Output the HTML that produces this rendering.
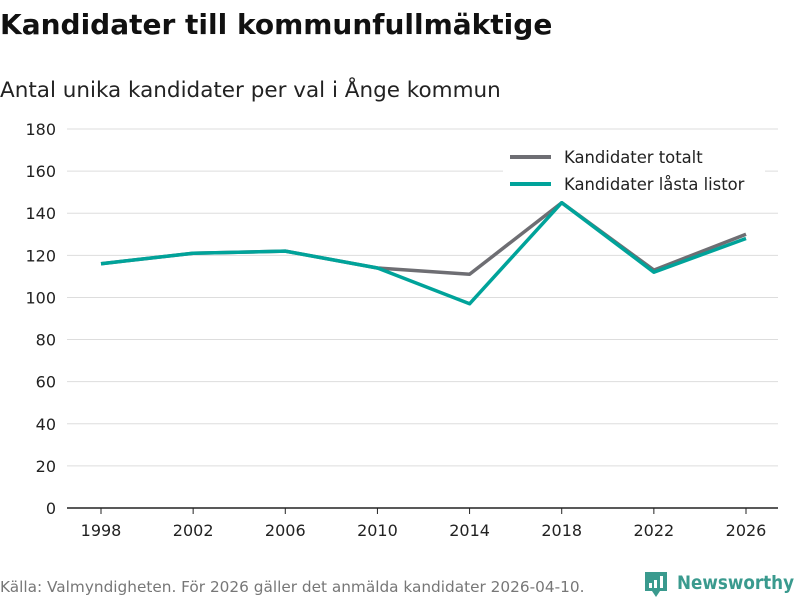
<!DOCTYPE html>
<html><head><meta charset="utf-8"><style>
body{margin:0;background:#fff;width:800px;height:600px;overflow:hidden;font-family:"DejaVu Sans","Liberation Sans",sans-serif;}
</style></head><body>
<svg id="chart" width="800" height="600" xmlns="http://www.w3.org/2000/svg">
<text x="0" y="34" font-size="28" font-weight="bold" fill="#111">Kandidater till kommunfullmäktige</text>
<text x="0" y="97" font-size="21.5" fill="#222">Antal unika kandidater per val i Ånge kommun</text>
<g id="grid"></g><g id="lines"></g>
<g>
<rect x="503" y="143" width="262" height="58" fill="#fff"/>
<line x1="510" y1="157" x2="551" y2="157" stroke="#6e6e73" stroke-width="4"/>
<text x="564" y="163" font-size="16.4" fill="#222">Kandidater totalt</text>
<line x1="510" y1="184" x2="551" y2="184" stroke="#00a39a" stroke-width="4"/>
<text x="564" y="190" font-size="16.4" fill="#222">Kandidater låsta listor</text>
</g>
<text x="0" y="592" font-size="15.3" fill="#777">Källa: Valmyndigheten. För 2026 gäller det anmälda kandidater 2026-04-10.</text>
<g>
<path d="M645 572h22v19h-7l-4 6-4-6h-7z" fill="#3a9a8e"/>
<rect x="649" y="583" width="3" height="5" fill="#fff"/><rect x="654" y="580" width="3" height="8" fill="#fff"/><rect x="660" y="576" width="3" height="12" fill="#fff"/>
<text x="677" y="589" font-size="19" font-weight="bold" fill="#3a9a8e" textLength="117" lengthAdjust="spacingAndGlyphs">Newsworthy</text>
</g>
</svg>
<script>
const years=[1998,2002,2006,2010,2014,2018,2022,2026];
const totalt=[116,121,122,114,111,145,113,130];
const lasta=[116,121,122,114,97,145,112,128];
const yTicks=[0,20,40,60,80,100,120,140,160,180];
const NS="http://www.w3.org/2000/svg";
const x=v=>101+(v-1998)/28*645;
const y=v=>508-v/180*379;
const grid=document.getElementById('grid'),lines=document.getElementById('lines');
function mk(t,a,p){const e=document.createElementNS(NS,t);for(const k in a)e.setAttribute(k,a[k]);p.appendChild(e);return e;}
yTicks.forEach(t=>{
 const l=mk('line',{x1:67,x2:778,y1:y(t),y2:y(t),stroke:t===0?'#222':'#ddd','stroke-width':t===0?1.5:1},grid);
 
 
 const tx=mk('text',{x:56,y:y(t)+6,'text-anchor':'end','font-size':16,fill:'#222'},grid);tx.textContent=t;
 
 
});
years.forEach(yr=>{
 const tk=mk('line',{x1:x(yr),x2:x(yr),y1:508,y2:514,stroke:'#222'},grid);
 
 
 const tx=mk('text',{x:x(yr),y:536,'text-anchor':'middle','font-size':16,fill:'#222'},grid);tx.textContent=yr;
 
 
});
function series(vals,col,name){
 const p=mk('polyline',{points:vals.map((v,i)=>x(years[i])+','+y(v)).join(' '),fill:'none',stroke:col,'stroke-width':3.5,'stroke-linejoin':'round'},lines);
 
 
}
series(totalt,'#6e6e73','line-totalt');
series(lasta,'#00a39a','line-lasta-listor');
</script>
</body></html>
